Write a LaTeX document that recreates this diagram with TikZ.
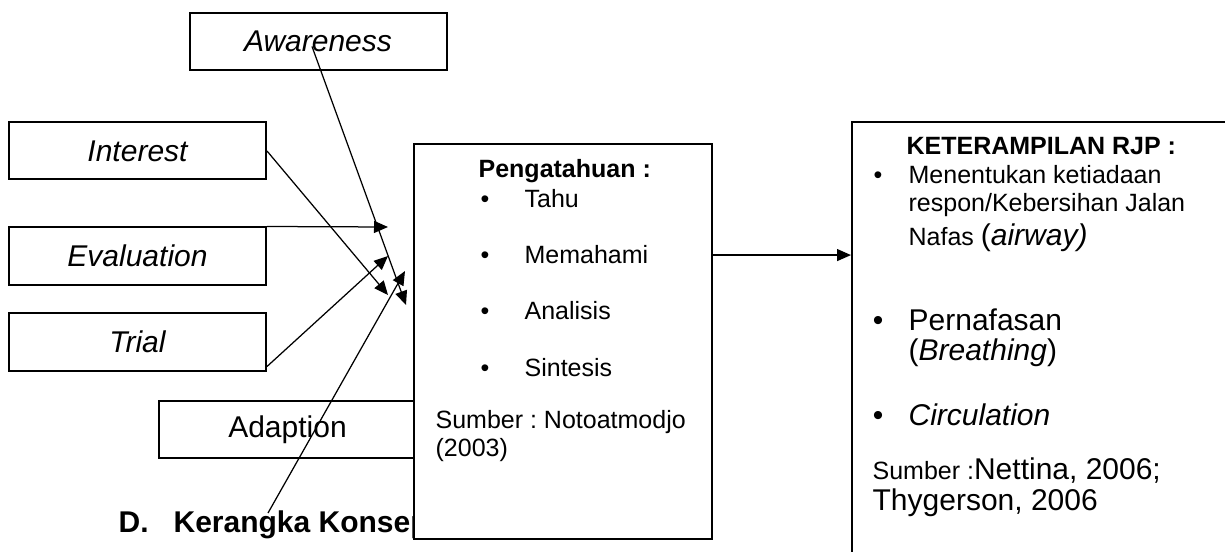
\documentclass[tikz,border=0pt]{standalone}
\usepackage{fontspec}
\setmainfont{Liberation Sans}
\usepackage{tikz}
\usetikzlibrary{arrows.meta, positioning}
\frenchspacing

\begin{document}
\begin{tikzpicture}[->, >={Triangle[length=5.6pt, width=4.8pt]}, line width=0.5pt, x=0.4pt, y=-0.4pt,
    box/.style={rectangle, draw, fill=white, line width=0.8pt, minimum width=102.8pt, minimum height=22.8pt, inner sep=0pt, font=\fontsize{12}{14}\selectfont},
    small/.style={anchor=base west, inner sep=0pt, font=\fontsize{10}{12}\selectfont},
    big/.style={anchor=base west, inner sep=0pt, font=\fontsize{12}{14}\selectfont},
    dot/.style={anchor=base, inner sep=0pt, font=\fontsize{10}{12}\selectfont}]
                        \useasboundingbox (0, 0) rectangle (1225, 552);
                        \clip (0, 0) rectangle (1225, 552);

                        \node [box] (aware) at (318, 41.5) {\itshape Awareness};
                        \node [box] (interest) at (137.5, 151) {\itshape Interest};
                        \node [box] (eval) at (137.5, 256) {\itshape Evaluation};
                        \node [box] (trial) at (137.5, 342) {\itshape Trial};
                        \node [box] (adapt) at (287.5, 429.5) {Adaption};
                        \node [big, font=\fontsize{12}{14}\selectfont\bfseries] (title) at (118, 532) {D.\hspace{10pt}Kerangka Konsep};

                        \node [box, minimum width=119.2pt, minimum height=158pt] (peng) at (563, 341.5) {};
                        \node [box, minimum width=155.2pt, minimum height=179.2pt] (ket) at (1046, 346) {};

                        \node [small, font=\fontsize{10}{12}\selectfont\bfseries] (ptitle) at (478, 178) {Pengatahuan :};
                        \foreach \t/\y [count=\i] in {Tahu/208, Memahami/264, Analisis/320, Sintesis/376} {
                            \node [dot] (pdot\i) at (485, \y) {\textbullet};
                            \node [small] (pitem\i) at (524, \y) {\t};
                        }
                        \node [small] (psrc1) at (435, 428) {Sumber : Notoatmodjo};
                        \node [small] (psrc2) at (435, 456) {(2003)};

                        \node [small, font=\fontsize{10}{12}\selectfont\bfseries] (ktitle) at (906, 155) {KETERAMPILAN RJP :};
                        \node [dot] (kdot1) at (878, 184) {\textbullet};
                        \node [small] (kline1) at (908, 184) {Menentukan ketiadaan};
                        \node [small] (kline2) at (908, 212) {respon/Kebersihan Jalan};
                        \node [small] (kline3) at (908, 246) {Nafas {\fontsize{12}{14}\selectfont(\textit{airway)}}};
                        \node [dot, font=\fontsize{12}{14}\selectfont] (kdot2) at (878, 330) {\textbullet};
                        \node [big] (kline4) at (908, 330) {Pernafasan};
                        \node [big] (kline5) at (908, 360) {(\textit{Breathing})};
                        \node [dot, font=\fontsize{12}{14}\selectfont] (kdot3) at (878, 425) {\textbullet};
                        \node [big] (kline6) at (908, 425) {\itshape Circulation};
                        \node [small] (ksrc1) at (872, 479) {Sumber :{\fontsize{12}{14}\selectfont Nettina, 2006;}};
                        \node [big] (ksrc2) at (872, 510) {Thygerson, 2006};

                        \coordinate (awareEnd) at (406, 305);
                        \coordinate (interestEnd) at (388, 295);
                        \coordinate (evalEnd) at (388, 227);
                        \coordinate (trialEnd) at (388, 256);
                        \coordinate (adaptStart) at (268, 513);
                        \coordinate (adaptEnd) at (405, 271);

                        \path ([shift={(-6, 5)}]aware.center) edge (awareEnd);
                        \path (interest.east) edge (interestEnd);
                        \path (eval.north east) edge (evalEnd);
                        \path ([shift={(0, -5)}]trial.south east) edge (trialEnd);
                        \path (adaptStart) edge (adaptEnd);
                        \path (peng.east |- pitem2.center) edge (ket.west |- pitem2.center);
                    \end{tikzpicture}
\end{document}
